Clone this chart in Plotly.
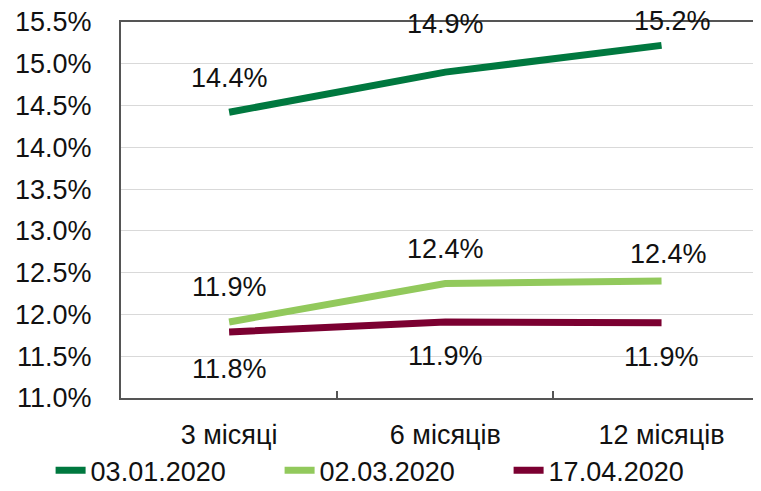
import plotly.graph_objects as go

categories = ["3 місяці", "6 місяців", "12 місяців"]
series_names = ["03.01.2020", "02.03.2020", "17.04.2020"]
s_jan = [14.42, 14.90, 15.22]
s_mar = [11.91, 12.37, 12.40]
s_apr = [11.79, 11.91, 11.90]
y_ticks = [11.0, 11.5, 12.0, 12.5, 13.0, 13.5, 14.0, 14.5, 15.0, 15.5]

colors = ["#00783f", "#92c95c", "#7b0031"]
# label offsets (px) - labels were moved by hand in the original
label_dy = [
    [34, 48, 24],
    [35, 35, 27],
    [-37, -34, -34],
]
label_dx = [
    [0, 0, 11],
    [0, 0, 7],
    [0, 0, 0],
]

fnt = "Arial, Liberation Sans, sans-serif"
fig = go.Figure()
for name, vals, col in zip(series_names, [s_jan, s_mar, s_apr], colors):
    fig.add_trace(go.Scatter(x=categories, y=vals, name=name, mode="lines",
                             line=dict(color=col, width=7)))

for vals, dys, dxs in zip([s_jan, s_mar, s_apr], label_dy, label_dx):
    for c, v, dy, dx in zip(categories, vals, dys, dxs):
        fig.add_annotation(x=c, y=v, text="{:.1f}%".format(v), showarrow=False,
                           yshift=dy, xshift=dx,
                           font=dict(size=27, color="#111", family=fnt))

# page body has an 8px margin, so the figure is a bit smaller than the window
fig.update_layout(
    width=753, height=483,
    margin=dict(l=113, r=0, t=14, b=93, autoexpand=False),
    plot_bgcolor="white", paper_bgcolor="white",
    font=dict(family=fnt, size=27, color="#111"),
    showlegend=True,
    legend=dict(orientation="h", x=-0.11, y=-0.128, xanchor="left", yanchor="top",
                font=dict(size=27), entrywidth=184, itemwidth=30,
                bgcolor="rgba(0,0,0,0)"),
    xaxis=dict(type="category", range=[-0.5, 2.46], showline=True, mirror=True,
               linecolor="#555", linewidth=2, ticks="inside", tickson="boundaries",
               ticklen=7, tickcolor="#555", tickwidth=2, showgrid=False,
               ticklabelstandoff=12),
    yaxis=dict(range=[11.0, 15.5], tickvals=y_ticks,
               ticktext=["{:.1f}%".format(t) for t in y_ticks],
               showline=True, linecolor="#555", linewidth=2, ticks="",
               showgrid=True, gridcolor="#d9d9d9", gridwidth=1,
               zeroline=False, ticklabelstandoff=22, ticklabeloverflow="allow"),
)

fig.write_html("out.html")
